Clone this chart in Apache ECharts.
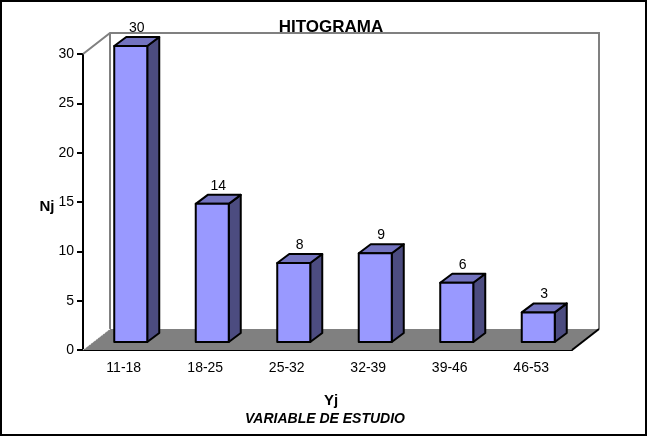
<!DOCTYPE html>
<html>
<head>
<meta charset="utf-8">
<script src="https://cdn.jsdelivr.net/npm/echarts@6/dist/echarts.min.js"></script>
<style>
  html, body { margin: 0; padding: 0; background: #fff; }
  #chart { width: 649px; height: 438px; }
</style>
</head>
<body>
<div id="chart"></div>
<script>
// datos del histograma
const CATEGORIES = ['11-18', '18-25', '25-32', '32-39', '39-46', '46-53'];
const VALUES = [30, 14, 8, 9, 6, 3];
const Y_MIN = 0;
const Y_MAX = 30;
const Y_STEP = 5;

// perspectiva (px)
const WALL_DX = 27, WALL_DY = -21;
const BAR_OFF_X = 7, BAR_OFF_Y = -8;
const BAR_DX = 12, BAR_DY = -9;

const FONT = 'Liberation Sans, Arial, sans-serif';

const chart = echarts.init(document.getElementById('chart'));

function renderWalls(params, api) {
  const cs = params.coordSys;
  const l = cs.x, r = cs.x + cs.width, t = cs.y, b = cs.y + cs.height;
  const gray = '#808080';
  return {
    type: 'group',
    children: [
      {
        type: 'polygon',
        shape: { points: [[l, b], [l + WALL_DX, b + WALL_DY], [r + WALL_DX, b + WALL_DY], [r, b]] },
        style: { fill: gray, stroke: null }
      },
      {
        type: 'polyline',
        shape: { points: [[l, t], [l + WALL_DX, t + WALL_DY], [r + WALL_DX, t + WALL_DY], [r + WALL_DX, b + WALL_DY]] },
        style: { fill: null, stroke: gray, lineWidth: 2 }
      },
      {
        type: 'line',
        shape: { x1: l + WALL_DX, y1: t + WALL_DY, x2: l + WALL_DX, y2: b + WALL_DY },
        style: { stroke: gray, lineWidth: 2 }
      },
      {
        type: 'line',
        shape: { x1: l, y1: b, x2: l + WALL_DX, y2: b + WALL_DY },
        style: { stroke: '#fff', lineWidth: 1, lineDash: [1, 2] }
      },
      {
        type: 'line',
        shape: { x1: r, y1: b, x2: r + WALL_DX, y2: b + WALL_DY },
        style: { stroke: '#000', lineWidth: 2 }
      }
    ]
  };
}

function renderBar(params, api) {
  const i = api.value(0);
  const v = api.value(1);
  const base = api.coord([i, 0]);
  const top = api.coord([i, v]);
  const cw = api.size([1, 0])[0];
  const w = cw * 0.405;
  const x0 = base[0] + BAR_OFF_X - w / 2;
  const x1 = x0 + w;
  const yb = base[1] + BAR_OFF_Y;
  const yt = top[1] + BAR_OFF_Y;
  const edge = { stroke: '#000', lineWidth: 2, lineJoin: 'round' };
  return {
    type: 'group',
    children: [
      {
        type: 'polygon',
        shape: { points: [[x1, yt], [x1 + BAR_DX, yt + BAR_DY], [x1 + BAR_DX, yb + BAR_DY], [x1, yb]] },
        style: Object.assign({ fill: '#4c4c80' }, edge)
      },
      {
        type: 'polygon',
        shape: { points: [[x0, yt], [x1, yt], [x1 + BAR_DX, yt + BAR_DY], [x0 + BAR_DX, yt + BAR_DY]] },
        style: Object.assign({ fill: '#7373bf' }, edge)
      },
      {
        type: 'rect',
        shape: { x: x0, y: yt, width: w, height: yb - yt },
        style: Object.assign({ fill: '#9999ff' }, edge)
      },
      {
        type: 'text',
        style: {
          text: String(v),
          x: x0 + w / 2 + 6,
          y: yt + BAR_DY - 2,
          align: 'center',
          verticalAlign: 'bottom',
          font: '14px ' + FONT,
          fill: '#000'
        }
      }
    ]
  };
}

chart.setOption({
  animation: false,
  backgroundColor: '#fff',
  title: [
    {
      text: 'HITOGRAMA',
      left: 326,
      top: 14,
      textAlign: 'center',
      textStyle: { fontFamily: FONT, fontSize: 17, fontWeight: 'bold', color: '#000' }
    },
    {
      text: 'Nj',
      left: 42,
      top: 194,
      textAlign: 'center',
      textStyle: { fontFamily: FONT, fontSize: 15, fontWeight: 'bold', color: '#000' }
    },
    {
      text: 'Yj',
      left: 326,
      top: 388,
      textAlign: 'center',
      textStyle: { fontFamily: FONT, fontSize: 15, fontWeight: 'bold', color: '#000' }
    },
    {
      text: 'VARIABLE DE ESTUDIO',
      left: 320,
      top: 407,
      textAlign: 'center',
      textStyle: { fontFamily: FONT, fontSize: 14, fontWeight: 'bold', fontStyle: 'italic', color: '#000' }
    }
  ],
  graphic: [
    {
      type: 'rect',
      shape: { x: 1, y: 1, width: 645, height: 434 },
      style: { fill: null, stroke: '#000', lineWidth: 2 },
      z: 100
    }
  ],
  grid: { left: 83, right: 77, top: 54, bottom: 88 },
  xAxis: {
    type: 'category',
    data: CATEGORIES,
    axisLine: { lineStyle: { color: '#000', width: 2 } },
    axisTick: { length: 6, lineStyle: { color: '#000', width: 2 } },
    axisLabel: { color: '#000', fontFamily: FONT, fontSize: 14, margin: 11 }
  },
  yAxis: {
    type: 'value',
    min: Y_MIN,
    max: Y_MAX,
    interval: Y_STEP,
    axisLine: { show: true, lineStyle: { color: '#000', width: 2 } },
    axisTick: { show: true, length: 6, lineStyle: { color: '#000', width: 2 } },
    axisLabel: { color: '#000', fontFamily: FONT, fontSize: 14, margin: 9 },
    splitLine: { show: false }
  },
  series: [
    {
      type: 'custom',
      name: 'walls',
      renderItem: renderWalls,
      data: [[0, 0]],
      silent: true,
      z: 1
    },
    {
      type: 'custom',
      name: 'Nj',
      renderItem: renderBar,
      encode: { x: 0, y: 1 },
      data: VALUES.map((v, i) => [i, v]),
      z: 2
    }
  ]
});
</script>
</body>
</html>
